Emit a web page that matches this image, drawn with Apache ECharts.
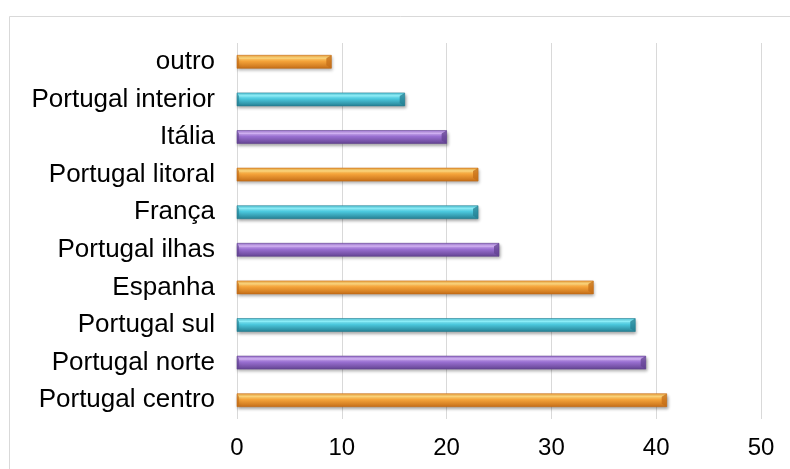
<!DOCTYPE html>
<html>
<head>
<meta charset="utf-8">
<script src="https://cdn.jsdelivr.net/npm/echarts@6/dist/echarts.min.js"></script>
<style>
  html, body { margin: 0; padding: 0; background: #fff; }
  #chart { width: 790px; height: 469px; }
</style>
</head>
<body>
<div id="chart"></div>
<script>
// categories, bottom to top
const categories = [
  'Portugal centro', 'Portugal norte', 'Portugal sul', 'Espanha', 'Portugal ilhas',
  'França', 'Portugal litoral', 'Itália', 'Portugal interior', 'outro'
]
const values = [41, 39, 38, 34, 25, 23, 23, 20, 16, 9]
const xTicks = [0, 10, 20, 30, 40, 50]

// bar colours cycle orange / purple / cyan (light, mid, dark)
const palette = {
  orange: ['#ffd77c', '#f5a43a', '#c46d18'],
  purple: ['#d2b2f5', '#9a70d2', '#634391'],
  cyan:   ['#8ef0fb', '#4cc9de', '#267f92']
}
const colorOrder = ['orange', 'purple', 'cyan']
const BAR_H = 13

// bevelled bar: gradient body + darker end faces
function renderBar(params, api) {
  const idx = api.value(0)
  const val = api.value(1)
  const start = api.coord([0, idx])
  const end = api.coord([val, idx])
  const c = palette[colorOrder[idx % 3]]
  const y0 = start[1] - BAR_H / 2
  const y1 = y0 + BAR_H
  const xa = start[0]
  const xb = end[0]
  const bev = 5
  return {
    type: 'group',
    children: [
      {
        type: 'rect',
        shape: {x: xa, y: y0, width: xb - xa, height: BAR_H},
        style: {
          fill: new echarts.graphic.LinearGradient(0, 0, 0, 1, [
            {offset: 0, color: c[1]},
            {offset: 0.2, color: c[0]},
            {offset: 0.45, color: c[1]},
            {offset: 1, color: c[2]}
          ]),
          stroke: c[2],
          lineWidth: 0.6,
          shadowColor: 'rgba(0,0,0,0.35)',
          shadowBlur: 3,
          shadowOffsetX: 1,
          shadowOffsetY: 2
        }
      },
      {
        // right end face
        type: 'polygon',
        shape: {points: [[xb - bev, y0 + 3], [xb, y0], [xb, y1], [xb - bev, y1 - 3]]},
        style: {fill: c[2], opacity: 0.75}
      },
      {
        // left end face
        type: 'polygon',
        shape: {points: [[xa, y0], [xa + 2, y0 + 3], [xa + 2, y1 - 3], [xa, y1]]},
        style: {fill: c[2], opacity: 0.6}
      },
      {
        // top highlight edge
        type: 'line',
        shape: {x1: xa + 2, y1: y0 + 3, x2: xb - bev, y2: y0 + 3},
        style: {stroke: c[0], lineWidth: 1, opacity: 0.8}
      }
    ]
  }
}

const chart = echarts.init(document.getElementById('chart'))

chart.setOption({
  backgroundColor: '#ffffff',
  animation: false,
  graphic: [
    {
      type: 'rect',
      left: 7,
      top: 14,
      shape: {width: 820, height: 480},
      style: {fill: 'none', stroke: '#d9d9d9', lineWidth: 1}
    }
  ],
  grid: {
    left: 237,
    right: 29,
    top: 43,
    bottom: 50
  },
  xAxis: {
    type: 'value',
    min: 0,
    max: 50,
    interval: 10,
    axisLine: {show: false},
    axisTick: {show: false},
    axisLabel: {
      margin: 17,
      fontFamily: 'Liberation Sans, Arial, sans-serif',
      fontSize: 24,
      color: '#000',
      formatter: v => (xTicks.includes(v) ? String(v) : '')
    },
    splitLine: {show: true, lineStyle: {color: '#d9d9d9', width: 1}}
  },
  yAxis: {
    type: 'category',
    data: categories,
    axisLine: {show: false},
    axisTick: {show: false},
    axisLabel: {
      margin: 22,
      fontFamily: 'Liberation Sans, Arial, sans-serif',
      fontSize: 26,
      color: '#000'
    },
    splitLine: {show: false}
  },
  series: [
    {
      type: 'custom',
      renderItem: renderBar,
      encode: {x: 1, y: 0},
      data: values.map((v, i) => [i, v])
    }
  ]
})
</script>
</body>
</html>
